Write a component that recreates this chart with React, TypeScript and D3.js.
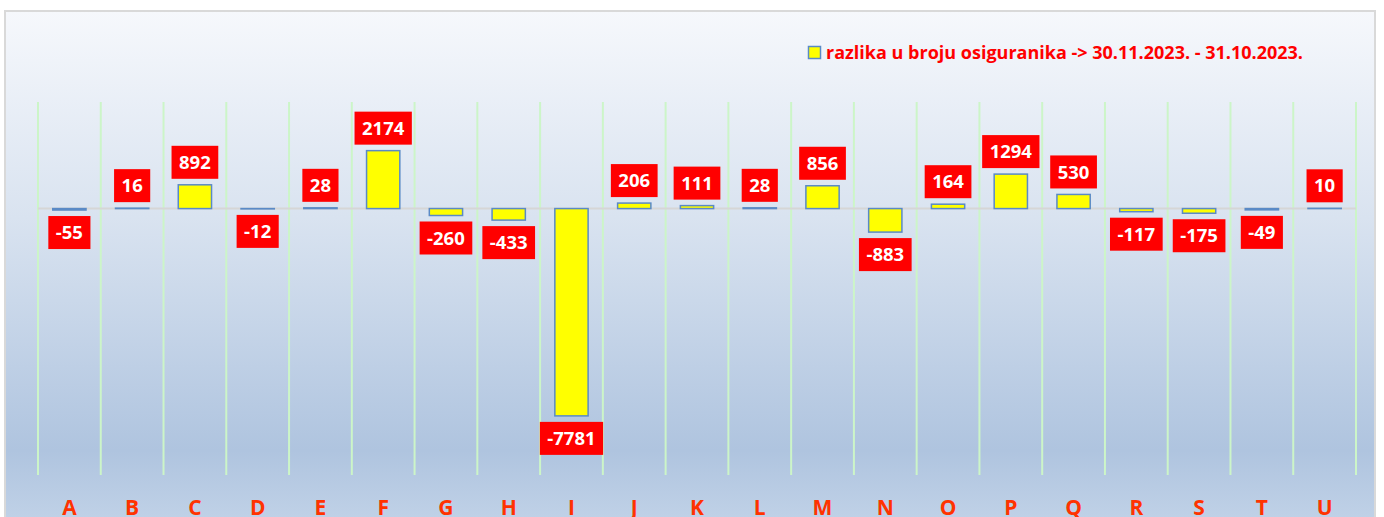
import { useEffect, useRef } from "react";
import * as d3 from "d3";

const categories = ["A", "B", "C", "D", "E", "F", "G", "H", "I", "J", "K", "L", "M", "N", "O", "P", "Q", "R", "S", "T", "U"];
const values = [-55, 16, 892, -12, 28, 2174, -260, -433, -7781, 206, 111, 28, 856, -883, 164, 1294, 530, -117, -175, -49, 10];
const legendLabel = "razlika u broju osiguranika -> 30.11.2023. - 31.10.2023.";

const W = 1384;
const H = 517;

export default function App() {
  const svgRef = useRef<SVGSVGElement | null>(null);

  useEffect(() => {
    if (!svgRef.current) return;
    const svg = d3.select(svgRef.current);
    svg.selectAll("*").remove();

    const plot = { left: 38, right: 1356, top: 102, bottom: 475 };

    // background gradient like the Excel chart area
    const defs = svg.append("defs");
    const grad = defs
      .append("linearGradient")
      .attr("id", "bg")
      .attr("x1", 0)
      .attr("y1", 0)
      .attr("x2", 0)
      .attr("y2", 1);
    grad.append("stop").attr("offset", "0%").attr("stop-color", "#f6f8fc");
    grad.append("stop").attr("offset", "40%").attr("stop-color", "#d9e3f0");
    grad.append("stop").attr("offset", "85%").attr("stop-color", "#afc4df");
    grad.append("stop").attr("offset", "100%").attr("stop-color", "#c2d3e8");

    svg.append("rect").attr("width", W).attr("height", H).attr("fill", "#ffffff");
    svg
      .append("rect")
      .attr("x", 5)
      .attr("y", 11)
      .attr("width", 1370)
      .attr("height", H)
      .attr("fill", "url(#bg)")
      .attr("stroke", "#d9d9d9")
      .attr("stroke-width", 2);

    const x = d3.scaleBand<string>().domain(categories).range([plot.left, plot.right]).paddingInner(0).paddingOuter(0);
    const y = d3.scaleLinear().domain([-10000, 4000]).range([plot.bottom, plot.top]);

    // vertical grid lines between categories
    const edges = categories.map((c) => x(c) as number).concat([plot.right]);
    svg
      .append("g")
      .selectAll("line")
      .data(edges)
      .join("line")
      .attr("x1", (d) => d)
      .attr("x2", (d) => d)
      .attr("y1", plot.top)
      .attr("y2", plot.bottom)
      .attr("stroke", "#ccf5c8")
      .attr("stroke-width", 2);

    // zero line
    svg
      .append("line")
      .attr("x1", plot.left)
      .attr("x2", plot.right)
      .attr("y1", y(0))
      .attr("y2", y(0))
      .attr("stroke", "#d6d6d6")
      .attr("stroke-width", 2);

    const bw = x.bandwidth() * 0.53;

    // bars
    svg
      .append("g")
      .selectAll("rect")
      .data(values)
      .join("rect")
      .attr("x", (_, i) => (x(categories[i]) as number) + (x.bandwidth() - bw) / 2)
      .attr("y", (d) => Math.min(y(d), y(0)))
      .attr("width", bw)
      .attr("height", (d) => Math.abs(y(d) - y(0)))
      .attr("fill", "#ffff00")
      .attr("stroke", "#5a8ac6")
      .attr("stroke-width", 1.5);

    // data labels in red boxes
    const labels = svg.append("g").selectAll("g").data(values).join("g");
    labels.each(function (d, i) {
      const g = d3.select(this);
      const cx = (x(categories[i]) as number) + x.bandwidth() / 2;
      const boxH = 33;
      const top = d >= 0 ? y(d) - 6 - boxH : y(d) + 6;
      const rect = g.append("rect").attr("fill", "#ff0000");
      const t = g
        .append("text")
        .attr("x", cx)
        .attr("y", top + boxH / 2)
        .attr("dy", "0.36em")
        .attr("text-anchor", "middle")
        .attr("fill", "#ffffff")
        .style("font-family", "'Open Sans', sans-serif")
        .style("font-weight", 700)
        .style("font-size", "18.5px")
        .text(String(d));
      const tw = (t.node() as SVGTextElement).getComputedTextLength();
      const boxW = tw + 15;
      rect.attr("x", cx - boxW / 2).attr("y", top).attr("width", boxW).attr("height", boxH);
    });

    // category labels
    svg
      .append("g")
      .selectAll("text")
      .data(categories)
      .join("text")
      .attr("x", (d) => (x(d) as number) + x.bandwidth() / 2)
      .attr("y", 515)
      .attr("text-anchor", "middle")
      .attr("fill", "#ff3300")
      .style("font-family", "'Open Sans', sans-serif")
      .style("font-weight", 700)
      .style("font-size", "21px")
      .text((d) => d);

    // legend
    const lg = svg.append("g");
    lg.append("rect")
      .attr("x", 808.5)
      .attr("y", 46.5)
      .attr("width", 12)
      .attr("height", 12)
      .attr("fill", "#ffff00")
      .attr("stroke", "#5a8ac6")
      .attr("stroke-width", 1.5);
    lg.append("text")
      .attr("x", 826)
      .attr("y", 59)
      .attr("fill", "#ff0000")
      .style("font-family", "'Open Sans', sans-serif")
      .style("font-weight", 700)
      .style("font-size", "17px")
      .attr("textLength", 477)
      .attr("lengthAdjust", "spacingAndGlyphs")
      .text(legendLabel);
  }, []);

  return (
    <div style={{ position: "absolute", left: 0, top: 0, width: W, height: H, overflow: "hidden" }}>
      <svg ref={svgRef} width={W} height={H} style={{ display: "block" }} />
    </div>
  );
}
